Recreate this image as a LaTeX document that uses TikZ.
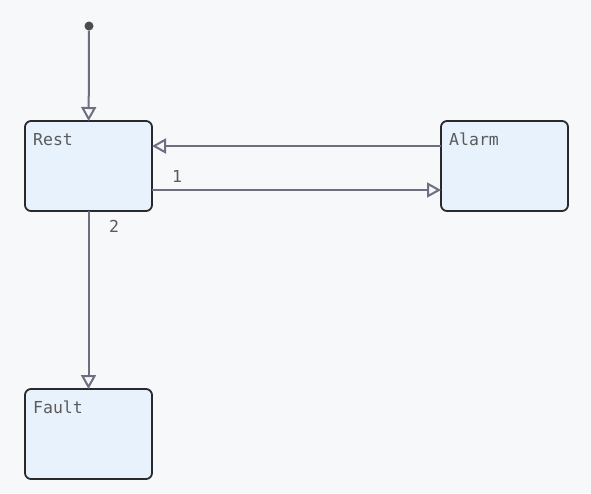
\documentclass[tikz,border=0pt]{standalone}
\usepackage{fontspec}
\newfontfamily\statefont{DejaVu Sans Mono}
\usepackage{xcolor}
\usetikzlibrary{arrows.meta, positioning, calc}

\definecolor{bgcol}{HTML}{F7F8FA}
\definecolor{boxfill}{HTML}{E8F2FC}
\definecolor{boxline}{HTML}{2A2A2E}
\definecolor{wirecol}{HTML}{6E6E80}
\definecolor{txtcol}{HTML}{5A5A5A}

\tikzset{
  state/.style={draw=boxline, fill=boxfill, line width=1.8pt, rounded corners=6pt,
    minimum width=127pt, minimum height=90pt, inner sep=0pt, outer sep=0pt},
  statename/.style={anchor=base west, text=txtcol, inner sep=0pt,
    font=\statefont\fontsize{16.5}{20}\selectfont},
  wire/.style={draw=wirecol, line width=2pt,
    -{Triangle[open, length=14pt, width=15pt, line width=2pt]}},
  wirelbl/.style={text=txtcol, inner sep=0pt, font=\statefont\fontsize{16.5}{20}\selectfont}
}

\begin{document}
\begin{tikzpicture}[x=1pt, y=-1pt]
  % background
  \fill[bgcol] (0,0) rectangle (591,493);
  \useasboundingbox (0,0) rectangle (591,493);

  % states
  \node[state] (rest)  at (88.5,166) {};
  \node[state] (alarm) at (504.5,166) {};
  \node[state] (fault) at (88.5,434) {};
  \node[statename] at ($(rest.north west)+(8,24)$) {Rest};
  \node[statename] at ($(alarm.north west)+(8,24)$) {Alarm};
  \node[statename] at ($(fault.north west)+(8,24)$) {Fault};

  % initial point
  \node[circle, fill=black!70, inner sep=0pt, minimum size=9pt] (init) at (89,26) {};
  \draw[wire] (init) -- (rest);

  % transitions
  \draw[wire] ([yshift=20pt]alarm.west) -- ([yshift=20pt]rest.east);
  \draw[wire] ([yshift=-24pt]rest.east) -- ([yshift=-24pt]alarm.west);
  \node[wirelbl] (one) at (177,176) {1};
  \draw[wire] (rest) -- (fault);
  \node[wirelbl] (two) at (114,226) {2};
\end{tikzpicture}
\end{document}
